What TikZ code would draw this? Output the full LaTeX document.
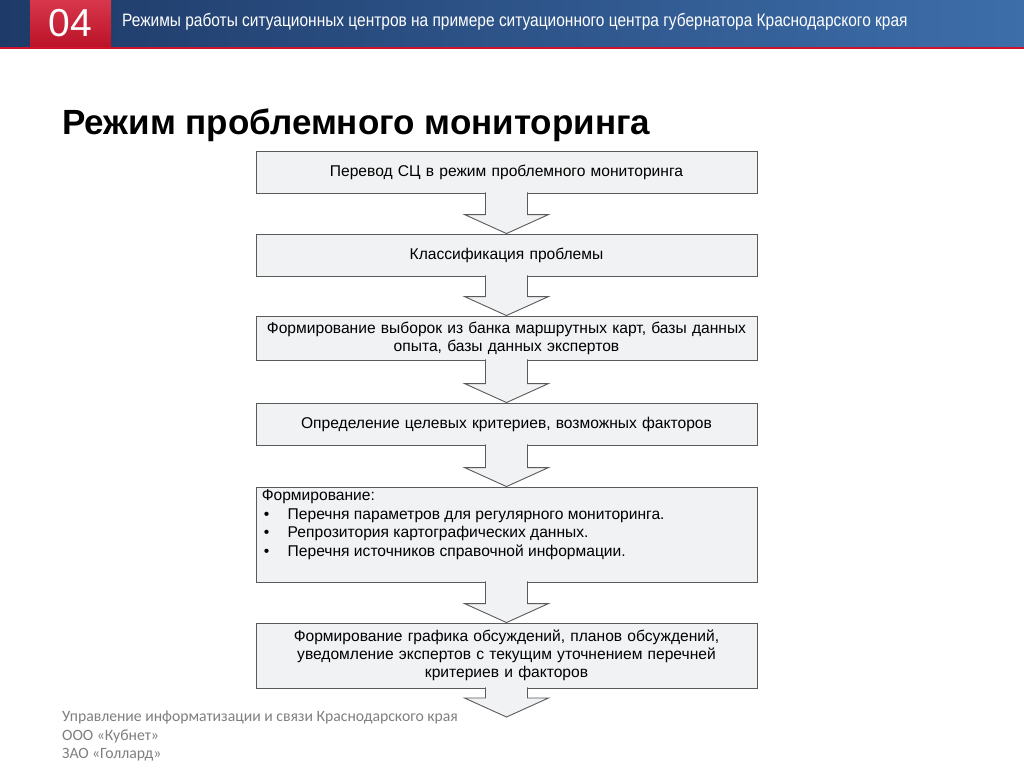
\documentclass[tikz,border=0pt]{standalone}
\usepackage{fontspec}
\setmainfont{Liberation Sans}
\newfontfamily\narrowfont[FakeStretch=0.86]{Liberation Sans}
\newfontfamily\footfont{Carlito}
\usetikzlibrary{calc}

\definecolor{bandDark}{HTML}{1E3A68}
\definecolor{bandLight}{HTML}{3D6EAA}
\definecolor{bandRed}{HTML}{D0142C}
\definecolor{boxFill}{HTML}{F1F2F4}
\definecolor{boxLine}{HTML}{5A5A5A}
\definecolor{footGray}{HTML}{7F7F7F}

\tikzset{
  stagebox/.style={draw=boxLine, line width=0.9pt, fill=boxFill,
    minimum width=501pt, text width=496pt, align=center, inner sep=0pt,
    font=\fontsize{15.6}{18}\selectfont},
  listtext/.style={anchor=north west, align=left, inner sep=0pt,
    font=\fontsize{15.6}{18.5}\selectfont},
  flowarrow/.style={draw=boxLine, line width=0.9pt, fill=boxFill, line join=miter},
}

% block arrow from a box to the tip point
\newcommand{\flowarrow}[2]{%
  \filldraw[flowarrow] let \p1=(#1), \p2=(#2) in
    (\x2-21pt,\y1+1pt) -- (\x2-21pt,\y2+19pt) -- (\x2-42pt,\y2+19pt) -- (\p2)
    -- (\x2+42pt,\y2+19pt) -- (\x2+21pt,\y2+19pt) -- (\x2+21pt,\y1+1pt);
}
\newcommand{\lbullet}{\hspace*{2pt}\makebox[24pt][l]{\textbullet}}

\begin{document}
\begin{tikzpicture}[x=1pt, y=-1pt]
  \useasboundingbox (0,0) rectangle (1024,768);
  \fill[white] (0,0) rectangle (1024,768);

  % header band
  \shade[left color=bandDark, right color=bandLight] (0,0) rectangle (1024,47);
  \fill[bandRed] (0,47) rectangle (1024,49.5);
  \shade[top color=bandRed!85!white, bottom color=bandRed!90!black] (30,0) rectangle (111,47);
  \node[text=white, font=\fontsize{39}{39}\selectfont] (secnum) at (70.5,23) {04};
  \node[text=white, anchor=west, inner sep=0pt, font=\narrowfont\fontsize{18}{18}\selectfont]
    (headtitle) at (122,22) {Режимы работы ситуационных центров на примере ситуационного центра губернатора Краснодарского края};

  % slide heading
  \node[anchor=west, inner sep=0pt, font=\bfseries\fontsize{35}{35}\selectfont]
    (heading) at (62,125) {Режим проблемного мониторинга};

  % stages
  \node[stagebox, minimum height=42pt] (box1) at (506.5,172) {Перевод СЦ в режим проблемного мониторинга};
  \node[stagebox, minimum height=42pt] (box2) at (506.5,255) {Классификация проблемы};
  \node[stagebox, minimum height=44pt] (box3) at (506.5,338)
    {Формирование выборок из банка маршрутных карт, базы данных\\опыта, базы данных экспертов};
  \node[stagebox, minimum height=42pt] (box4) at (506.5,424) {Определение целевых критериев, возможных факторов};
  \node[stagebox, minimum height=95pt] (box5) at (506.5,534.5) {};
  \node[listtext] (box5list) at ($(box5.north west)+(6,3)$)
    {Формирование:\\
     \lbullet Перечня параметров для регулярного мониторинга.\\
     \lbullet Репрозитория картографических данных.\\
     \lbullet Перечня источников справочной информации.};
  \node[stagebox, minimum height=65pt] (box6) at (506.5,655.5)
    {Формирование графика обсуждений, планов обсуждений,\\уведомление экспертов с текущим уточнением перечней\\критериев и факторов};
  \coordinate (flowend) at (506.5,717);

  % arrows
  \flowarrow{box1.south}{box2.north}
  \flowarrow{box2.south}{box3.north}
  \flowarrow{box3.south}{box4.north}
  \flowarrow{box4.south}{box5.north}
  \flowarrow{box5.south}{box6.north}
  \flowarrow{box6.south}{flowend}

  % footer
  \node[anchor=north west, align=left, inner sep=0pt, text=footGray,
    font=\footfont\fontsize{15.7}{18.5}\selectfont] (footer) at (62,711)
    {Управление информатизации и связи Краснодарского края\\ООО «Кубнет»\\ЗАО «Голлард»};
\end{tikzpicture}
\end{document}
